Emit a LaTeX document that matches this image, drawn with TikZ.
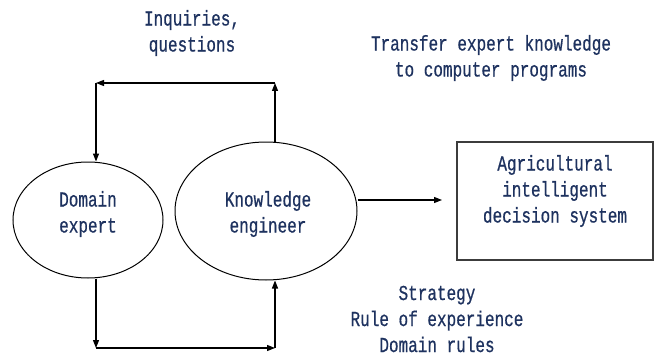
\documentclass[tikz,border=0pt]{standalone}
\usepackage{fontspec}
\newfontfamily\labelfont[FakeStretch=0.75,FakeBold=0.6]{Liberation Mono}
\usetikzlibrary{arrows.meta,shapes.geometric}
\definecolor{textblue}{RGB}{30,50,95}
\definecolor{boxgray}{RGB}{60,60,60}

\tikzset{every picture/.style={line width=0.9pt}}
\tikzset{
  txt/.style={text=textblue,font=\labelfont\fontsize{16}{19.5}\selectfont,align=center,inner sep=0pt},
  person/.style={ellipse,draw,line width=0.75pt,inner sep=0pt},
  flow/.style={-{Triangle[length=6pt,width=4.5pt]}},
}

\begin{document}
\begin{tikzpicture}[x=0.75pt,y=0.75pt,yscale=-1,xscale=1]
\useasboundingbox (0,0) rectangle (657,360);

%Shape: Ellipse [expert]
\node [person,minimum width=112.5pt,minimum height=87pt] (expert) at (88,220) {};
%Shape: Ellipse [engineer]
\node [person,minimum width=136.5pt,minimum height=103.5pt] (engineer) at (266,211) {};
%Shape: Rectangle [sys]
\node [draw=boxgray,line width=1.1pt,minimum width=147pt,minimum height=88.5pt] (sys) at (555,201) {};

%Corners of the two loops
\coordinate (askL) at (96,83);
\coordinate (askR) at (275,83);
\coordinate (feedL) at (96,348);
\coordinate (feedR) at (275,348);
\coordinate (sysin) at (442,200);

%Straight Lines [top loop]
\draw [flow] (askR |- engineer.north) -- (askR);
\draw [flow] (askR) -- (askL);
\draw [flow] (askL) -- (askL |- expert.north);
%Straight Lines [bottom loop]
\draw [flow] (feedL |- expert.south) -- (feedL);
\draw [flow] (feedL) -- (feedR);
\draw [flow] (feedR) -- (feedR |- engineer.south);
%Straight Lines [to system]
\draw [flow] (sysin -| engineer.east) -- (sysin);

% Text Node
\node [txt] (experttxt) at (88,214) {Domain\\expert};
% Text Node
\node [txt] (engineertxt) at (268,214) {Knowledge\\engineer};
% Text Node
\node [txt] (systxt) at (555,191) {Agricultural\\intelligent\\decision system};
% Text Node
\node [txt] (ask) at (192,33) {Inquiries,\\questions};
% Text Node
\node [txt] (transfer) at (491,58) {Transfer expert knowledge\\to computer programs};
% Text Node
\node [txt] (rules) at (437,319) {Strategy\\Rule of experience\\Domain rules};

\end{tikzpicture}
\end{document}
